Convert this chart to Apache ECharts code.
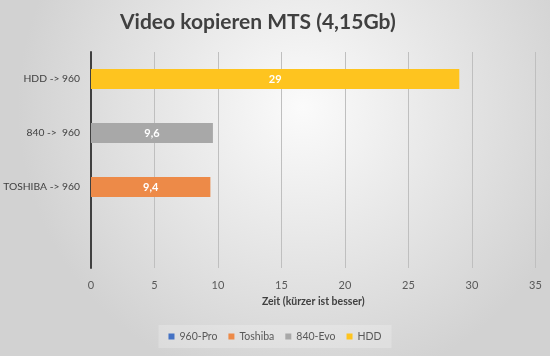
<!DOCTYPE html>
<html><head><meta charset="utf-8">
<script src="https://cdn.jsdelivr.net/npm/echarts@6/dist/echarts.min.js"></script>
<style>html,body{margin:0;padding:0;}#c{width:550px;height:356px;}</style>
</head><body><div id="c"></div>
<script>
const categories = ['', 'TOSHIBA -> 960', '840 ->  960', 'HDD -> 960'];
const seriesNames = ['960-Pro', 'Toshiba', '840-Evo', 'HDD'];
const pro960 = [null, null, null, null];
const toshiba = [null, 9.4, null, null];
const evo840 = [null, null, 9.6, null];
const hdd = [null, null, null, 29];
const xTicks = [0, 5, 10, 15, 20, 25, 30, 35];
const colors = ['#4472C4', '#ED8A48', '#A8A8A8', '#FEC41F'];
const FONT = 'Lato';

const chart = echarts.init(document.getElementById('c'), null, {renderer: 'canvas'});
const values = [pro960, toshiba, evo840, hdd];
chart.setOption({
  backgroundColor: {type: 'radial', x: 0.55, y: 0.3, r: 0.8,
    colorStops: [{offset: 0, color: '#fbfbfb'}, {offset: 1, color: '#d2d2d2'}]},
  animation: false,
  title: {text: 'Video kopieren MTS (4,15Gb)', left: 115, top: 7,
    textStyle: {fontFamily: FONT, fontSize: 21, fontWeight: 'bold', color: '#404040'}},
  grid: {left: 91, right: 14.5, top: 52, bottom: 88, containLabel: false, outerBoundsMode: 'none'},
  legend: {data: seriesNames, bottom: 8, left: 'center', itemWidth: 6, itemHeight: 6,
    itemGap: 11, icon: 'rect', backgroundColor: 'rgba(255,255,255,0.22)', padding: [6, 10],
    textStyle: {fontFamily: FONT, fontSize: 10.5, color: '#595959'}},
  xAxis: {type: 'value', min: xTicks[0], max: xTicks[xTicks.length - 1], interval: 5,
    name: 'Zeit (kürzer ist besser)', nameLocation: 'middle', nameGap: 28,
    nameTextStyle: {fontFamily: FONT, fontSize: 10.5, fontWeight: 'bold', color: '#404040'},
    axisLine: {show: false}, axisTick: {show: false},
    axisLabel: {fontFamily: FONT, fontSize: 11, color: '#595959', margin: 12},
    splitLine: {lineStyle: {color: '#bfbfbf', width: 1}}},
  yAxis: {type: 'category', data: categories,
    axisLine: {lineStyle: {color: '#404040', width: 2}}, axisTick: {show: false},
    axisLabel: {fontFamily: FONT, fontSize: 10.3, color: '#404040', margin: 11}},
  series: seriesNames.map((n, i) => ({
    name: n, type: 'bar', stack: 'all', barWidth: 20, data: values[i],
    itemStyle: {color: colors[i]},
    label: {show: true, position: 'inside', color: '#ffffff', fontFamily: FONT,
      fontSize: 11, fontWeight: 'bold',
      formatter: p => String(p.value).replace('.', ',')}
  }))
});
</script></body></html>
